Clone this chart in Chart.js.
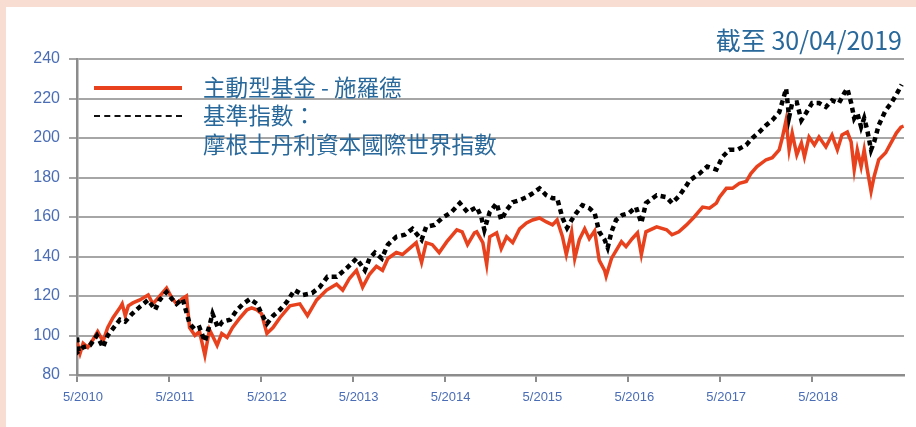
<!DOCTYPE html>
<html>
<head>
<meta charset="utf-8">
<script src="https://cdn.jsdelivr.net/npm/chart.js@4.4.1/dist/chart.umd.min.js"></script>
<style>
  html, body { margin: 0; padding: 0; }
  body { width: 916px; height: 427px; background: #f8ddd3; position: relative; overflow: hidden; font-family: "Noto Sans CJK TC", "Noto Sans", sans-serif; }
  .panel { position: absolute; left: 6px; top: 7px; right: 0; bottom: 0; background: #fff; }
  #chart { position: absolute; left: 0; top: 0; }
  .txt { position: absolute; color: #28689a; white-space: nowrap; line-height: 30px; }
  .title { right: 14px; top: 24px; font-size: 25px; }
  .leg { left: 203px; font-size: 22.6px; }
  .swatch { position: absolute; left: 94px; width: 88px; }
</style>
</head>
<body>
<div class="panel"></div>
<canvas id="chart" width="916" height="427"></canvas>
<div class="txt title">截至 30/04/2019</div>
<div class="swatch" style="top:86px;height:4px;background:#e8411d;"></div>
<div class="swatch" style="top:115px;height:0;border-top:2px dashed #111;"></div>
<div class="txt leg" style="top:72px;">主動型基金 - 施羅德</div>
<div class="txt leg" style="top:100px;">基準指數：</div>
<div class="txt leg" style="top:129px;">摩根士丹利資本國際世界指數</div>
<script>
// months since 5/2010
const tickMonths = [0, 12, 24, 36, 48, 60, 72, 84, 96];
const tickLabels = ["5/2010", "5/2011", "5/2012", "5/2013", "5/2014", "5/2015", "5/2016", "5/2017", "5/2018"];
const yTicks = [80, 100, 120, 140, 160, 180, 200, 220, 240];

const fundMonths = [0, 0.4, 0.8, 1.4, 2.1, 2.7, 3.4, 4.0, 4.7, 5.6, 5.9, 6.3, 6.7, 7.3, 8.2, 9.3, 9.9, 10.6, 11.7, 12.4,
  13.0, 13.7, 14.3, 14.7, 15.4, 16.0, 16.7, 17.3, 18.3, 18.9, 19.6, 20.3, 21.3, 22.2, 22.8, 23.5, 24.1, 24.8, 25.6, 26.5,
  27.8, 29.1, 30.1, 31.3, 32.6, 33.9, 34.7, 35.6, 36.5, 37.3, 38.2, 39.1, 39.9, 40.6, 41.7, 42.5, 43.4, 44.3, 45.0, 45.6,
  46.4, 47.3, 48.3, 49.6, 50.3, 51.0, 51.9, 52.2, 53.0, 53.5, 53.9, 54.8, 55.4, 56.1, 56.9, 57.8, 58.7, 59.5, 60.4, 61.3,
  62.1, 62.7, 63.4, 63.9, 64.6, 65.0, 65.6, 66.3, 66.9, 67.6, 68.2, 68.9, 69.1, 69.8, 70.4, 71.1, 71.7, 72.5, 73.2, 73.7,
  74.3, 75.7, 77.0, 77.7, 78.6, 79.6, 80.6, 81.7, 82.6, 83.5, 83.9, 84.8, 85.6, 86.5, 87.4, 88.0, 88.8, 90.0, 90.8, 91.7,
  92.1, 92.6, 93.0, 93.4, 94.0, 94.6, 95.0, 95.6, 96.3, 96.9, 97.8, 98.6, 99.3, 99.9, 100.6, 101.1, 101.5, 101.9, 102.4, 102.8,
  103.2, 103.7, 104.1, 104.7, 105.6, 106.3, 107.0, 107.6, 107.95];
const fundValues = [97, 91, 96, 94, 98, 102, 97, 104, 109, 114, 116, 110, 115, 116.5, 118, 120.5, 116, 119, 124, 119,
  116, 118.5, 120, 104, 100, 102, 90, 103, 95, 101, 99, 104, 109, 113, 114, 113, 111, 101, 104, 109,
  115, 116, 110, 118, 123, 126, 123, 129, 133, 124.5, 131, 135, 133, 139, 142, 141, 144, 147, 137, 147,
  146, 142, 147.5, 153.5, 152.5, 146, 152, 152.5, 147, 136, 150, 152, 144, 150, 147, 154, 157, 158.5, 159.5, 157.5,
  156, 158.5, 150, 141, 152.5, 139, 148.5, 154, 149, 153, 138, 133, 130, 139, 143, 147.5, 145, 149, 152, 141,
  152.5, 155, 153.5, 151, 152.5, 156, 160, 165, 164.5, 167, 170, 174.5, 174.5, 177, 178, 182, 185.5, 189, 190, 194,
  200, 209, 194, 202.5, 191.5, 197.5, 190.5, 200.5, 196.5, 200.5, 195.5, 201.5, 194, 201.5, 203, 198, 184, 194, 185.5, 194,
  184, 173, 180.5, 189, 192.5, 197.5, 202.5, 205.5, 206];

const benchMonths = [0, 0.2, 0.8, 1.7, 2.6, 3.4, 4.0, 5.0, 5.6, 6.3, 7.2, 8.2, 9.3, 10.2, 10.8, 11.7, 12.4, 13.0, 13.8, 14.7,
  15.4, 16.0, 16.7, 17.3, 17.7, 18.4, 19.0, 20.0, 20.9, 21.7, 22.6, 23.5, 24.1, 24.8, 25.6, 26.5, 27.4, 28.4, 29.5, 30.7,
  31.7, 32.7, 33.9, 35.2, 36.5, 37.6, 38.2, 38.9, 39.8, 40.6, 41.7, 42.8, 43.8, 45.0, 45.6, 46.7, 47.7, 48.9, 50.0, 51.0,
  52.2, 52.8, 53.2, 53.9, 54.8, 55.4, 56.1, 56.9, 57.8, 58.7, 59.5, 60.4, 61.3, 62.1, 62.7, 63.4, 64.0, 64.6, 65.2, 66.0,
  66.9, 67.6, 68.2, 68.9, 69.3, 69.8, 70.4, 71.2, 72.1, 73.0, 73.7, 74.3, 75.7, 77.0, 77.7, 78.6, 79.6, 80.0, 81.3, 82.3,
  83.5, 84.3, 85.2, 86.2, 87.4, 88.2, 89.1, 90.0, 90.8, 91.7, 92.3, 92.6, 93.0, 93.4, 94.0, 94.6, 95.2, 96.0, 96.9, 97.8,
  98.6, 99.5, 100.2, 100.6, 101.1, 101.5, 101.9, 102.4, 102.8, 103.2, 103.7, 104.1, 104.7, 105.6, 106.4, 107.1, 107.7];
const benchValues = [99, 92, 94, 95, 100, 94, 100, 105, 108, 107, 111, 114.5, 118, 113, 118, 122, 118.5, 116, 118.5, 106,
  103, 104, 97, 105, 111, 104, 107, 108, 113, 116, 118.5, 116, 111, 106, 110, 113, 117, 123, 120.5, 121.5,
  124.5, 129.7, 129.7, 134, 139, 133, 139, 142, 139, 146, 150, 151, 154, 148.5, 155, 156, 159.5, 162.5, 167, 162.5,
  165, 160, 153.5, 162.5, 167, 158.5, 163.5, 167.5, 168.5, 170, 172, 174.5, 171, 169.5, 169.5, 159.5, 154.5, 158.5, 162, 166,
  164.5, 162, 152.5, 148.5, 144.5, 152.5, 158.5, 161, 162, 165, 157, 167, 171, 170, 167, 170.5, 176, 178.5, 182, 185.5,
  184, 190.5, 194, 194, 196.5, 200, 203, 206.5, 209, 213, 220.7, 225, 210.6, 217.7, 218, 209, 212.6, 217.7, 217.7, 215.7,
  219, 217.7, 222.7, 225, 217.7, 210, 212.6, 205.6, 210, 204, 194, 198, 206.5, 214, 218, 222.7, 227];

const toPoints = (xs, ys) => xs.map((x, i) => ({ x: x, y: ys[i] }));

const blue = "#4a6db5";
const labelFont = { family: "'Liberation Sans', Arial, sans-serif" };

new Chart(document.getElementById("chart"), {
    type: "line",
    data: {
        datasets: [{
            label: "主動型基金 - 施羅德",
            data: toPoints(fundMonths, fundValues),
            borderColor: "#e8411d",
            borderWidth: 3.5,
            pointRadius: 0,
            tension: 0,
            order: 1,
        }, {
            label: "摩根士丹利資本國際世界指數",
            data: toPoints(benchMonths, benchValues),
            borderColor: "#000",
            borderWidth: 4.5,
            borderDash: [5, 4],
            pointRadius: 0,
            tension: 0,
            order: 0,
        }],
    },
    options: {
        responsive: false,
        animation: false,
        events: [],
        layout: { padding: { left: 0, right: 12, top: 59, bottom: 0 } },
        plugins: { legend: { display: false }, tooltip: { enabled: false } },
        scales: {
            x: {
                type: "linear",
                min: 0,
                max: 108,
                afterBuildTicks: (s) => { s.ticks = tickMonths.map(v => ({ value: v })); },
                afterFit: (s) => { s.height = 52; },
                ticks: {
                    autoSkip: false,
                    maxRotation: 0,
                    padding: 8,
                    labelOffset: 6,
                    color: blue,
                    font: { ...labelFont, size: 13 },
                    callback: (v) => tickLabels[tickMonths.indexOf(v)],
                },
                grid: { drawOnChartArea: false, drawTicks: true, tickLength: 7, color: "#8c8c8c", lineWidth: 2 },
                border: { display: true, color: "#8c8c8c", width: 2.5 },
            },
            y: {
                min: 80,
                max: 240,
                afterBuildTicks: (s) => { s.ticks = yTicks.map(v => ({ value: v })); },
                afterFit: (s) => { s.width = 77; },
                ticks: {
                    padding: 9,
                    color: blue,
                    font: { ...labelFont, size: 16 },
                },
                grid: { color: "#a6a6a6", lineWidth: 2, tickLength: 8 },
                border: { display: true, color: "#8c8c8c", width: 2.5 },
            },
        },
    },
});
</script>
</body>
</html>
